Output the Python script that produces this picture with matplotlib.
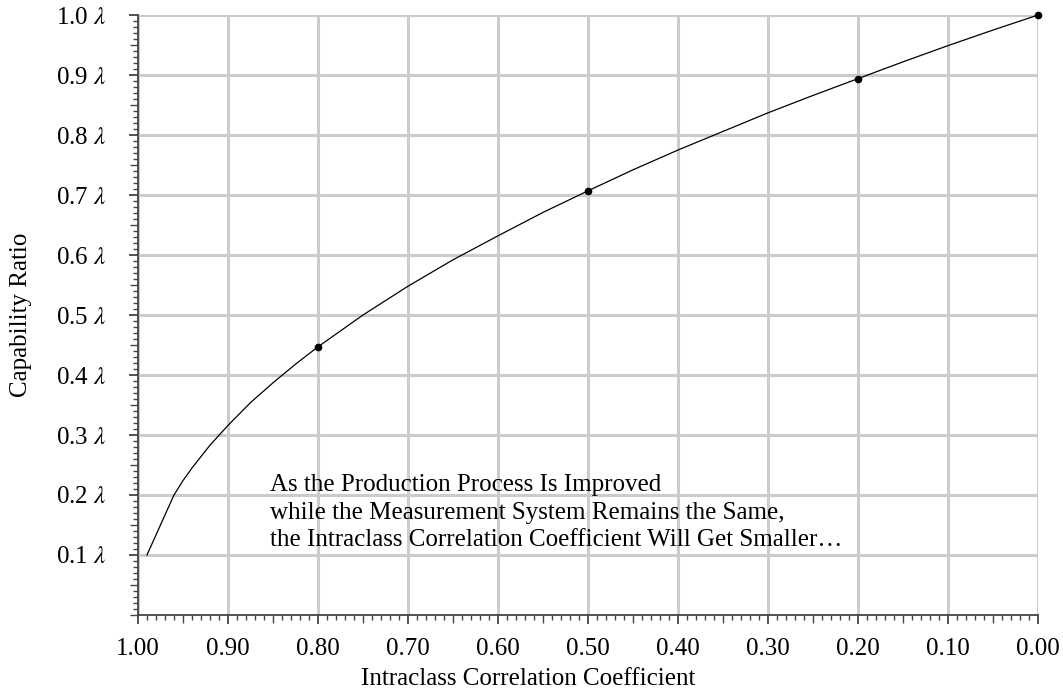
import matplotlib.pyplot as plt
from matplotlib.ticker import MultipleLocator

plt.rcParams['font.family'] = ['Liberation Serif', 'DejaVu Serif']
plt.rcParams['mathtext.fontset'] = 'stix'

# curve (ICC, capability ratio)
icc = [0.99, 0.96, 0.95, 0.94, 0.92, 0.90, 0.875, 0.85, 0.825, 0.80, 0.75, 0.70,
       0.65, 0.60, 0.55, 0.50, 0.45, 0.40, 0.35, 0.30, 0.25, 0.20, 0.15, 0.10, 0.05, 0.00]
ratio = [0.10, 0.20, 0.224, 0.245, 0.283, 0.316, 0.354, 0.387, 0.418, 0.447, 0.50, 0.548,
         0.592, 0.632, 0.671, 0.707, 0.742, 0.775, 0.806, 0.837, 0.866, 0.894, 0.922, 0.949, 0.975, 1.00]

# marked points
pt_icc = [0.80, 0.50, 0.20, 0.00]
pt_ratio = [0.447, 0.707, 0.894, 1.00]

x_ticks = [1.0, 0.9, 0.8, 0.7, 0.6, 0.5, 0.4, 0.3, 0.2, 0.1, 0.0]
y_ticks = [0.1, 0.2, 0.3, 0.4, 0.5, 0.6, 0.7, 0.8, 0.9, 1.0]

fig = plt.figure(figsize=(10.63, 6.96), dpi=100)
ax = fig.add_axes([0.1298, 0.1164, 0.8467, 0.862])

ax.plot(icc, ratio, color='black', lw=0.9)
ax.plot(pt_icc, pt_ratio, 'o', color='black', ms=4.5, clip_on=False, zorder=5)

ax.set_xlim(1.0, 0.0)
ax.set_ylim(0.0, 1.0)

ax.set_xticks(x_ticks)
ax.set_xticklabels([f'{v:.2f}' for v in x_ticks])
ax.set_yticks(y_ticks)
ax.set_yticklabels([f'{v:.1f} $\\lambda$' for v in y_ticks])
ax.xaxis.set_minor_locator(MultipleLocator(0.01))
ax.yaxis.set_minor_locator(MultipleLocator(0.01))

ax.grid(True, which='major', color='#cccccc', lw=2.2)
ax.set_axisbelow(True)
for s in ['top', 'right']:
    ax.spines[s].set_visible(False)
for s in ['left', 'bottom']:
    ax.spines[s].set_linewidth(1.3)
    ax.spines[s].set_color('#444444')

ax.tick_params(which='major', length=6.5, width=1.3, color='#444444', labelsize=18)
ax.tick_params(axis='x', which='major', pad=10)
ax.tick_params(axis='y', which='major', pad=16)
ax.tick_params(which='minor', length=3.8, width=1.0, color='#444444')

# longer minor ticks at every 0.05
for axis in [ax.xaxis, ax.yaxis]:
    locs = axis.get_minorticklocs()
    for tick, loc in zip(axis.get_minor_ticks(len(locs)), locs):
        if abs(loc * 20 - round(loc * 20)) < 1e-6:
            tick.tick1line.set_markersize(6)

ax.set_xlabel('Intraclass Correlation Coefficient', fontsize=18)
ax.xaxis.set_label_coords(0.433, -0.088)
ax.set_ylabel('Capability Ratio', fontsize=18)
ax.yaxis.set_label_coords(-0.118, 0.5)

ax.text(0.853, 0.235, 'As the Production Process Is Improved\n'
        'while the Measurement System Remains the Same,\n'
        'the Intraclass Correlation Coefficient Will Get Smaller\u2026',
        fontsize=18, va='top', ha='left', linespacing=1.33)

plt.savefig('out.png', dpi=100)
plt.close()
